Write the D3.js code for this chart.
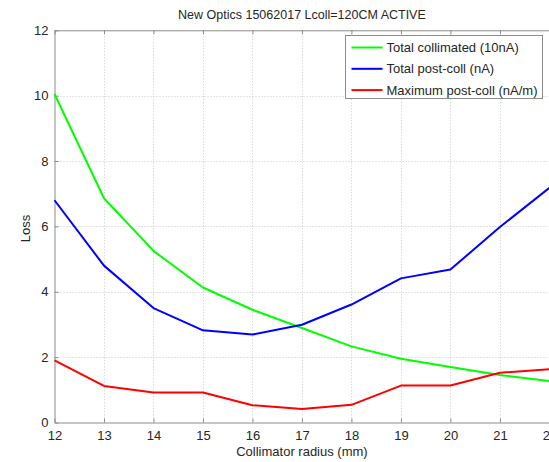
<!DOCTYPE html>
<html>
<head>
<meta charset="utf-8">
<script src="https://cdn.jsdelivr.net/npm/d3@7"></script>
<style>
  body { margin: 0; background: #fff; }
  svg text { font-family: "Liberation Sans", Arial, sans-serif; fill: #262626; }
</style>
</head>
<body>
<div class="canvas"></div>
<script>
// Data
const radius = [12, 13, 14, 15, 16, 17, 18, 19, 20, 21, 22];
const totalCollimated = [10.05, 6.86, 5.25, 4.13, 3.45, 2.89, 2.33, 1.95, 1.70, 1.45, 1.27];
const totalPostColl = [6.8, 4.8, 3.5, 2.82, 2.69, 2.99, 3.61, 4.41, 4.68, 5.98, 7.18];
const maxPostColl = [1.9, 1.12, 0.92, 0.92, 0.53, 0.41, 0.54, 1.13, 1.13, 1.52, 1.63];
const seriesNames = ['Total collimated (10nA)', 'Total post-coll (nA)', 'Maximum post-coll (nA/m)'];
const seriesColors = ['#00ff00', '#0000ff', '#ff0000'];
const yTicks = [0, 2, 4, 6, 8, 10, 12];

// Dimensions
const dims = { width: 549, height: 462 };
const plot = { left: 54.5, right: 549.4, top: 30.3, bottom: 422.5 };

const svg = d3.select('.canvas')
    .append('svg')
    .attr('width', dims.width)
    .attr('height', dims.height);

const x = d3.scaleLinear().domain([12, 22]).range([plot.left, plot.right]);
const y = d3.scaleLinear().domain([0, 12]).range([plot.bottom, plot.top]);

// Grid
const grid = svg.append('g')
    .attr('stroke', '#c8c8c8')
    .attr('stroke-width', 1)
    .attr('stroke-dasharray', '1,2');

grid.selectAll('line.gx')
    .data(radius.slice(1))
    .enter()
    .append('line')
        .attr('x1', d => Math.round(x(d)) + 0.5)
        .attr('x2', d => Math.round(x(d)) + 0.5)
        .attr('y1', plot.top)
        .attr('y2', plot.bottom);

grid.selectAll('line.gy')
    .data(yTicks.slice(1, -1))
    .enter()
    .append('line')
        .attr('x1', plot.left)
        .attr('x2', plot.right)
        .attr('y1', d => Math.round(y(d)) + 0.5)
        .attr('y2', d => Math.round(y(d)) + 0.5);

// Axes (ticks inward)
const xAxis = svg.append('g')
    .attr('transform', `translate(0, ${plot.bottom})`)
    .call(d3.axisBottom(x).tickValues(radius).tickSize(-4).tickPadding(8).tickSizeOuter(0));

const xTop = svg.append('g')
    .attr('transform', `translate(0, ${plot.top})`)
    .call(d3.axisTop(x).tickValues(radius).tickSize(-4).tickFormat('').tickSizeOuter(0));

const yAxis = svg.append('g')
    .attr('transform', `translate(${plot.left}, 0)`)
    .call(d3.axisLeft(y).tickValues(yTicks).tickSize(-4).tickPadding(6).tickSizeOuter(0));

[xAxis, xTop, yAxis].forEach(a => {
    a.select('.domain').attr('stroke', '#8c8c8c');
    a.selectAll('.tick line').attr('stroke', '#8c8c8c');
    a.selectAll('.tick text')
        .attr('font-size', 13)
        .attr('font-family', '"Liberation Sans", Arial, sans-serif')
        .attr('fill', '#262626');
});
xAxis.selectAll('.tick text').attr('dy', '0.75em');

// Lines
const line = d3.line()
    .x((d, i) => x(radius[i]))
    .y(d => y(d));

const allSeries = [totalCollimated, totalPostColl, maxPostColl];

svg.selectAll('path.series')
    .data(allSeries)
    .enter()
    .append('path')
        .attr('class', 'series')
        .attr('d', line)
        .attr('fill', 'none')
        .attr('stroke', (d, i) => seriesColors[i])
        .attr('stroke-width', 2)
        .attr('stroke-linejoin', 'round');

// Title and labels
svg.append('text')
    .attr('x', (plot.left + plot.right) / 2)
    .attr('y', 19)
    .attr('text-anchor', 'middle')
    .attr('font-size', 12.5)
    .text('New Optics 15062017 Lcoll=120CM ACTIVE');

svg.append('text')
    .attr('x', (plot.left + plot.right) / 2)
    .attr('y', 456)
    .attr('text-anchor', 'middle')
    .attr('font-size', 13)
    .text('Collimator radius (mm)');

svg.append('text')
    .attr('transform', `translate(30, ${(plot.top + plot.bottom) / 2 + 2}) rotate(-90)`)
    .attr('text-anchor', 'middle')
    .attr('font-size', 13)
    .text('Loss');

// Legend
const legend = svg.append('g').attr('transform', 'translate(345.5, 35.5)');

legend.append('rect')
    .attr('width', 197)
    .attr('height', 63)
    .attr('fill', '#fff')
    .attr('stroke', '#8c8c8c');

const items = legend.selectAll('g.item')
    .data(seriesNames)
    .enter()
    .append('g')
        .attr('transform', (d, i) => `translate(0, ${12 + i * 21.3})`);

items.append('line')
    .attr('x1', 6)
    .attr('x2', 37)
    .attr('stroke', (d, i) => seriesColors[i])
    .attr('stroke-width', 2);

items.append('text')
    .attr('x', 41)
    .attr('dy', '0.35em')
    .attr('font-size', 13)
    .text(d => d);
</script>
</body>
</html>
